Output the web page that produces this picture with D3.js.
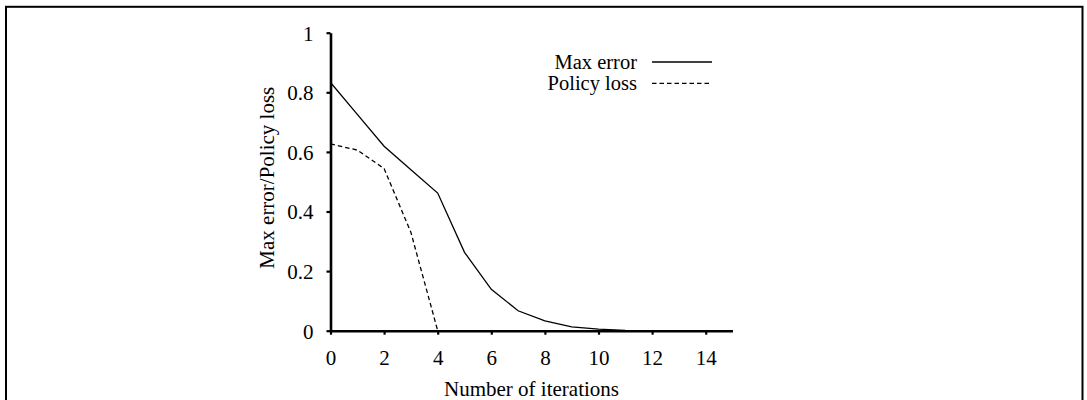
<!DOCTYPE html>
<html>
<head>
<meta charset="utf-8">
<script src="https://cdn.jsdelivr.net/npm/d3@7"></script>
<style>
  html, body { margin: 0; padding: 0; background: #fff; }
  svg { display: block; }
  text { font-family: "Liberation Serif", "Times New Roman", serif; fill: #000; }
</style>
</head>
<body>
<svg id="chart" width="1087" height="400"></svg>
<script>
const iterations = [0, 1, 2, 3, 4, 5, 6, 7, 8, 9, 10, 11, 12, 13, 14, 15];
const maxError = [0.833, 0.726, 0.619, 0.540, 0.462, 0.263, 0.139, 0.067, 0.033, 0.013, 0.005, 0.001, 0, 0, 0, 0];
const policyIter = [0, 1, 2, 3, 4];
const policyLoss = [0.627, 0.606, 0.544, 0.330, 0];
const xTicks = [0, 2, 4, 6, 8, 10, 12, 14];
const yTicks = [0, 0.2, 0.4, 0.6, 0.8, 1];
const seriesNames = ["Max error", "Policy loss"];
const xTitle = "Number of iterations";
const yTitle = "Max error/Policy loss";

const svg = d3.select("#chart");
const FS = 21;

// frame
svg.append("rect")
  .attr("x", 6).attr("y", 6.8)
  .attr("width", 1076.5).attr("height", 420)
  .attr("fill", "none").attr("stroke", "#000").attr("stroke-width", 2);

const x = d3.scaleLinear().domain([0, 15]).range([330.5, 732.5]);
const y = d3.scaleLinear().domain([0, 1]).range([330.7, 32.7]);

// axes
const xAxis = svg.append("g").attr("transform", `translate(0,${y(0)})`)
  .call(d3.axisBottom(x).tickValues(xTicks).tickSize(4).tickPadding(15).tickSizeOuter(0).tickFormat(d3.format("d")));
const yAxis = svg.append("g").attr("transform", `translate(${x(0)},0)`)
  .call(d3.axisLeft(y).tickValues(yTicks).tickSize(4).tickPadding(13).tickSizeOuter(0).tickFormat(d => d === 0 ? "0" : d === 1 ? "1" : d3.format(".1f")(d)));

[xAxis, yAxis].forEach(g => {
  g.select(".domain").attr("stroke", "#000").attr("stroke-width", 2.6);
  g.selectAll(".tick line").attr("stroke", "#000").attr("stroke-width", 2.2);
  g.selectAll(".tick text").attr("font-size", FS).attr("font-family", "Liberation Serif").attr("fill", "#000");
});
yAxis.selectAll(".tick text").attr("dy", "0.35em");

// titles
svg.append("text")
  .attr("x", 531.5).attr("y", 396)
  .attr("text-anchor", "middle").attr("font-size", FS)
  .text(xTitle);
svg.append("text")
  .attr("transform", `translate(274,${(y(0) + y(1)) / 2 - 4}) rotate(-90)`)
  .attr("text-anchor", "middle").attr("font-size", FS)
  .text(yTitle);

// lines
const line = d3.line().x(d => x(d[0])).y(d => y(d[1]));
svg.append("path")
  .datum(iterations.map((d, i) => [d, maxError[i]]))
  .attr("d", line).attr("fill", "none")
  .attr("stroke", "#000").attr("stroke-width", 1.3);
svg.append("path")
  .datum(policyIter.map((d, i) => [d, policyLoss[i]]))
  .attr("d", line).attr("fill", "none")
  .attr("stroke", "#000").attr("stroke-width", 1.3)
  .attr("stroke-dasharray", "4.5,3");

// legend
const legend = [
  { name: seriesNames[0], dash: null, ty: 69, ly: 62 },
  { name: seriesNames[1], dash: "4.5,3", ty: 90, ly: 83.3 }
];
legend.forEach(l => {
  svg.append("text").attr("x", 637).attr("y", l.ty)
    .attr("text-anchor", "end").attr("font-size", 20.5).text(l.name);
  svg.append("line").attr("x1", 652).attr("x2", 712).attr("y1", l.ly).attr("y2", l.ly)
    .attr("stroke", "#000").attr("stroke-width", 1.3)
    .attr("stroke-dasharray", l.dash);
});
</script>
</body>
</html>
